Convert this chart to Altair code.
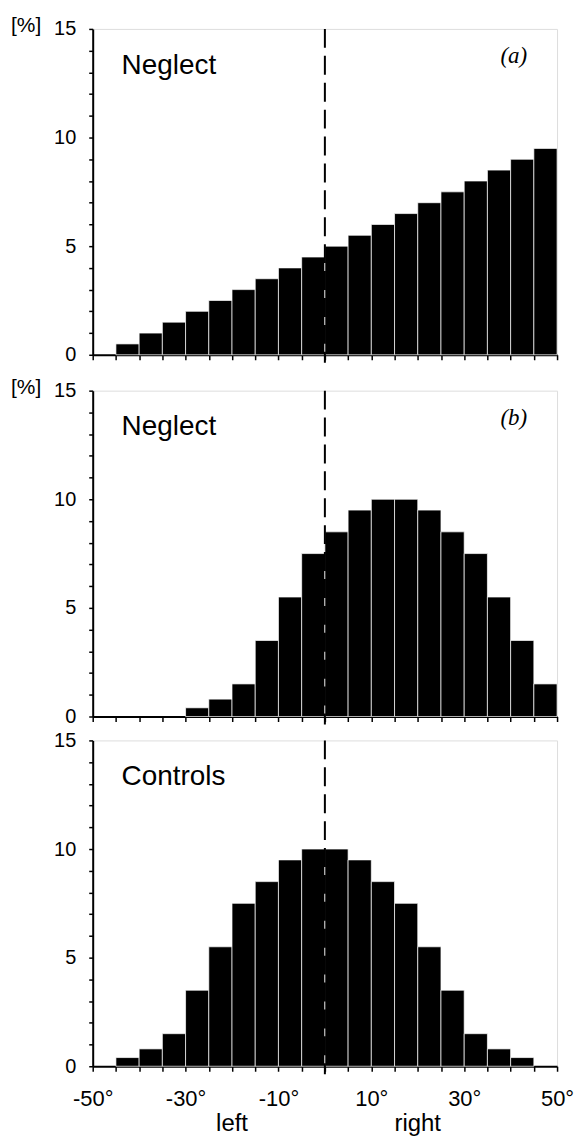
import altair as alt
import pandas as pd

# ---- data ----
bin_start = list(range(-50, 50, 5))
vals_a = [0, 0.5, 1.0, 1.5, 2.0, 2.5, 3.0, 3.5, 4.0, 4.5,
          5.0, 5.5, 6.0, 6.5, 7.0, 7.5, 8.0, 8.5, 9.0, 9.5]
vals_b = [0, 0, 0, 0, 0.4, 0.8, 1.5, 3.5, 5.5, 7.5,
          8.5, 9.5, 10, 10, 9.5, 8.5, 7.5, 5.5, 3.5, 1.5]
vals_c = [0, 0.4, 0.8, 1.5, 3.5, 5.5, 7.5, 8.5, 9.5, 10,
          10, 9.5, 8.5, 7.5, 5.5, 3.5, 1.5, 0.8, 0.4, 0]
x_ticks = list(range(-50, 55, 5))
y_ticks = list(range(0, 16))
side_labels = ["left", "right"]
side_pos = [-20, 20]

W, H = 466, 327
FONT = "Liberation Sans"


def panel(vals, label, tag, show_x, show_pct):
    df = pd.DataFrame({"start": bin_start,
                       "end": [s + 5 for s in bin_start],
                       "pct": vals,
                       "zero": [0] * len(vals)})
    df = df[df["pct"] > 0]
    xs = alt.Scale(domain=[-50, 50], nice=False, zero=False)
    ys = alt.Scale(domain=[0, 15], nice=False)
    xaxis = alt.Axis(values=x_ticks, tickSize=5, tickWidth=1.5, tickColor="black",
                     domainColor="black", domainWidth=2, grid=False, title=None,
                     labels=show_x,
                     labelExpr="abs(datum.value) % 20 == 10 ? datum.value + '°' : ''",
                     labelFont=FONT, labelFontSize=22, labelColor="black",
                     labelPadding=17, labelFlush=False, labelOverlap=False)
    yaxis = alt.Axis(values=y_ticks, tickSize=4, tickWidth=1.5, tickColor="black",
                     domainColor="black", domainWidth=2, grid=False, title=None,
                     labelExpr="datum.value % 5 == 0 ? datum.label : ''",
                     labelFont=FONT, labelFontSize=20, labelColor="black",
                     labelPadding=13, labelOverlap=False)
    bars = alt.Chart(df).mark_rect(color="black", stroke="white", strokeWidth=0.7).encode(
        x=alt.X("start:Q", scale=xs, axis=xaxis),
        x2="end:Q",
        y=alt.Y("pct:Q", scale=ys, axis=yaxis),
        y2="zero:Q",
    )
    rule = alt.Chart(pd.DataFrame({"x": [0]})).mark_rule(
        color="black", strokeWidth=2, strokeDash=[19, 8]
    ).encode(
        x=alt.X("x:Q", scale=xs, axis=xaxis),
        y=alt.value(0),
        y2=alt.value(H + 8),
    )
    name = alt.Chart(pd.DataFrame({"t": [label]})).mark_text(
        align="left", baseline="alphabetic", font=FONT, fontSize=28, color="black"
    ).encode(x=alt.value(29), y=alt.value(45), text="t:N")
    layers = [bars, rule, name]
    if tag:
        tg = alt.Chart(pd.DataFrame({"t": [tag]})).mark_text(
            align="right", baseline="alphabetic", font="Liberation Serif",
            fontStyle="italic", fontSize=23, color="black"
        ).encode(x=alt.value(W - 30), y=alt.value(34), text="t:N")
        layers.append(tg)
    if show_pct:
        pc = alt.Chart(pd.DataFrame({"t": ["[%]"]})).mark_text(
            align="left", baseline="alphabetic", font=FONT, fontSize=21, color="black"
        ).encode(x=alt.value(-82), y=alt.value(3), text="t:N")
        layers.append(pc)
    if show_x:
        sd = alt.Chart(pd.DataFrame({"t": side_labels, "p": side_pos})).mark_text(
            baseline="alphabetic", font=FONT, fontSize=24, color="black"
        ).encode(x=alt.X("p:Q", scale=xs, axis=xaxis), y=alt.value(H + 65), text="t:N")
        layers.append(sd)
    return alt.layer(*layers).properties(width=W, height=H)


pa = panel(vals_a, "Neglect", "(a)", False, True)
pb = panel(vals_b, "Neglect", "(b)", False, True)
pc = panel(vals_c, "Controls", None, True, False)

rest = alt.vconcat(pb, pc, spacing=24, bounds="flush")
chart = alt.vconcat(pa, rest, spacing=36, bounds="flush").properties(
    padding={"left": 2, "top": 4, "right": 0, "bottom": 0}
).configure_view(stroke="black", strokeWidth=2).configure(background="white")

chart.save("out.html", embed_options={"renderer": "svg", "actions": False})
